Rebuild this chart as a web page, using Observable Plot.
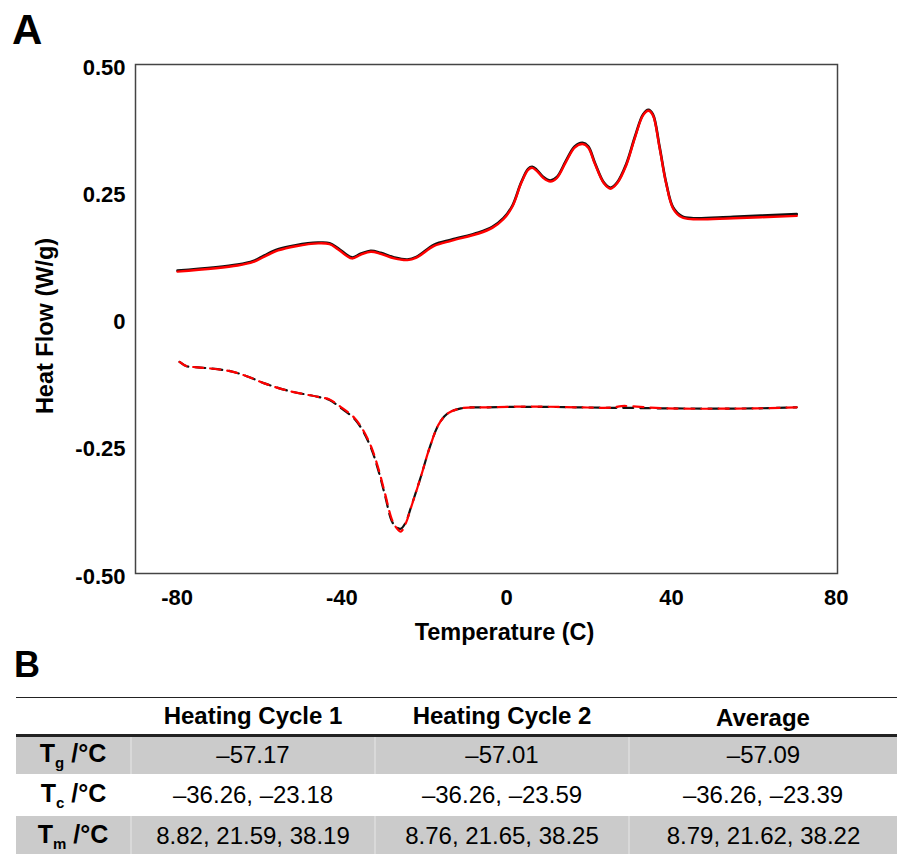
<!DOCTYPE html>
<html>
<head>
<meta charset="utf-8">
<script src="https://cdn.jsdelivr.net/npm/d3@7"></script>
<script src="https://cdn.jsdelivr.net/npm/@observablehq/plot@0.6"></script>
<style>
  html, body { margin: 0; padding: 0; background: #fff; }
  #wrap { position: relative; width: 897px; height: 854px; overflow: hidden; font-family: "Liberation Sans", Arial, sans-serif; color: #000; }
  .panel { position: absolute; font-weight: bold; line-height: 1; z-index: 2; }
  #chart { position: absolute; left: 0; top: 0; z-index: 1; }
  #tbl { position: absolute; left: 16px; top: 697px; width: 881px; border-collapse: collapse; table-layout: fixed; font-size: 24px; z-index: 1; }
  #tbl td, #tbl th { padding: 0; text-align: center; vertical-align: middle; white-space: nowrap; }
  #tbl thead tr { height: 38px; }
  #tbl thead th { font-weight: bold; border-top: 1.5px solid #222; border-bottom: 3px solid #222; }
  #tbl tbody td.lab { font-weight: bold; font-size: 25px; }
  #tbl tbody tr.g td { background: #cbcbcb; }
  #tbl tbody tr.g td + td { border-left: 2px solid #d9d9d9; }
  #tbl sub { font-size: 15px; vertical-align: -6px; }
</style>
</head>
<body>
<div id="wrap">
  <div class="panel" style="left:12px; top:9px; font-size:42px;">A</div>
  <div id="chart"></div>
  <div class="panel" style="left:14px; top:647px; font-size:36px;">B</div>
  <table id="tbl"></table>
</div>
<script>
// ---------- Panel A data ----------
const heatTemp = [-79.4, -64.8, -61.0, -58.3, -55.0, -50.7, -45.3, -42.5, -40.4, -37.1, -35.0, -32.5, -30.1, -26.8, -23.6, -21.4, -17.1, -12.8, -6.3, -3.0, -0.3, 1.9, 4.0, 5.7, 6.7, 7.8, 9.4, 11.1, 12.7, 14.9, 17.0, 18.9, 20.3, 21.9, 24.1, 25.7, 27.3, 29.5, 31.7, 33.6, 34.9, 36.0, 37.6, 39.2, 40.9, 43.0, 45.8, 55.5, 70.9];
const heatCycle1 = [0.095, 0.107, 0.114, 0.125, 0.137, 0.145, 0.150, 0.149, 0.139, 0.121, 0.128, 0.134, 0.130, 0.121, 0.117, 0.122, 0.146, 0.156, 0.170, 0.181, 0.198, 0.223, 0.268, 0.295, 0.299, 0.293, 0.279, 0.272, 0.279, 0.311, 0.339, 0.346, 0.339, 0.307, 0.268, 0.258, 0.268, 0.304, 0.360, 0.402, 0.411, 0.402, 0.339, 0.268, 0.219, 0.202, 0.198, 0.201, 0.206];
const heatCycle2 = [0.093, 0.105, 0.112, 0.1226, 0.1346, 0.143, 0.1486, 0.147, 0.1367, 0.119, 0.126, 0.132, 0.128, 0.119, 0.1157, 0.1206, 0.1436, 0.154, 0.168, 0.179, 0.196, 0.221, 0.2665, 0.293, 0.297, 0.291, 0.277, 0.27, 0.277, 0.3087, 0.3367, 0.3437, 0.3367, 0.305, 0.2665, 0.256, 0.2665, 0.3016, 0.358, 0.40, 0.409, 0.40, 0.3367, 0.2665, 0.217, 0.1998, 0.196, 0.198, 0.2026];

const coolTemp = [-78.9, -77.2, -74.5, -66.9, -62.6, -58.3, -52.8, -45.3, -42.5, -39.9, -36.6, -34.4, -32.3, -30.6, -29.0, -27.4, -26.3, -25.2, -24.1, -22.5, -20.3, -18.2, -16.0, -13.9, -10.6, -4.1, 6.7, 17.6, 26.2, 28.4, 39.2, 60.9, 70.9];
const coolCycle1 = [-0.0843, -0.0927, -0.0949, -0.102, -0.1124, -0.1265, -0.1405, -0.153, -0.159, -0.174, -0.195, -0.220, -0.256, -0.299, -0.348, -0.397, -0.409, -0.412, -0.401, -0.364, -0.309, -0.2527, -0.207, -0.186, -0.1756, -0.1735, -0.1725, -0.1735, -0.1745, -0.1745, -0.1756, -0.1756, -0.1735];
const coolCycle2 = [-0.0843, -0.0927, -0.0949, -0.102, -0.1124, -0.1265, -0.1405, -0.153, -0.158, -0.172, -0.193, -0.2177, -0.2527, -0.295, -0.344, -0.393, -0.41, -0.4177, -0.4035, -0.365, -0.309, -0.2527, -0.207, -0.186, -0.1756, -0.1735, -0.172, -0.1735, -0.174, -0.171, -0.1756, -0.1756, -0.1735];

const xTicks = [-80, -40, 0, 40, 80];
const yTicks = [0.5, 0.25, 0, -0.25, -0.5];
const yTickLabels = ["0.50", "0.25", "0", "-0.25", "-0.50"];
const xTitle = "Temperature (C)";
const yTitle = "Heat Flow (W/g)";

// ---------- Panel B data ----------
const tableHeaders = ["Heating Cycle 1", "Heating Cycle 2", "Average"];
const rowSymbols = ["g", "c", "m"];
const rowValues = [
  ["–57.17", "–57.01", "–57.09"],
  ["–36.26, –23.18", "–36.26, –23.59", "–36.26, –23.39"],
  ["8.82, 21.59, 38.19", "8.76, 21.65, 38.25", "8.79, 21.62, 38.22"]
];

// ---------- build ----------
const toRows = (t, v) => t.map((d, i) => ({t: d, hf: v[i]}));
const h1 = toRows(heatTemp, heatCycle1), h2 = toRows(heatTemp, heatCycle2);
const c1 = toRows(coolTemp, coolCycle1), c2 = toRows(coolTemp, coolCycle2);
const labelOf = new Map(yTicks.map((d, i) => [d, yTickLabels[i]]));

const chart = Plot.plot({
  width: 897,
  height: 650,
  marginLeft: 135,
  marginRight: 60,
  marginTop: 64,
  marginBottom: 77,
  x: {domain: [-89.6, 80.8]},
  y: {domain: [-0.5, 0.5]},
  style: {fontFamily: "'Liberation Sans', Arial, sans-serif", fontSize: "22px", fontWeight: "bold", color: "#000", background: "transparent", overflow: "visible"},
  marks: [
    Plot.frame({stroke: "#444", strokeWidth: 1.5}),
    Plot.axisX({ticks: xTicks, tickSize: 0, tickPadding: 16, tickFormat: d => String(d), label: null, fontSize: 22, fontWeight: "bold", dx: 2}),
    Plot.axisY({ticks: yTicks, tickSize: 0, tickPadding: 10, tickFormat: d => labelOf.get(d), label: null, fontSize: 22, fontWeight: "bold", dy: 3}),
    Plot.line(h1, {x: "t", y: "hf", stroke: "#111", strokeWidth: 2.6, curve: "catmull-rom"}),
    Plot.line(h2, {x: "t", y: "hf", stroke: "#ff0000", strokeWidth: 2.4, curve: "catmull-rom"}),
    Plot.line(c1, {x: "t", y: "hf", stroke: "#111", strokeWidth: 2.2, strokeDasharray: "10,7", curve: "catmull-rom"}),
    Plot.line(c2, {x: "t", y: "hf", stroke: "#ff0000", strokeWidth: 2.2, strokeDasharray: "10,7", strokeDashoffset: 2, curve: "catmull-rom"}),
    Plot.text([xTitle], {frameAnchor: "bottom", textAnchor: "middle", lineAnchor: "middle", dx: 18, dy: 59, fontSize: 23.5, fontWeight: "bold"}),
    Plot.text([yTitle], {frameAnchor: "left", textAnchor: "middle", lineAnchor: "middle", rotate: -90, dx: -90, dy: 7, fontSize: 23.5, fontWeight: "bold"})
  ]
});
document.getElementById("chart").appendChild(chart);

// table
const tbl = document.getElementById("tbl");
const colg = document.createElement("colgroup");
[115, 244, 254, 268].forEach(w => { const c = document.createElement("col"); c.style.width = w + "px"; colg.appendChild(c); });
tbl.appendChild(colg);
const thead = document.createElement("thead");
const htr = document.createElement("tr");
["", ...tableHeaders].forEach((h, i) => {
  const th = document.createElement("th");
  th.textContent = h;
  if (i === 3) th.style.paddingTop = "4px";
  htr.appendChild(th);
});
thead.appendChild(htr);
tbl.appendChild(thead);
const tbody = document.createElement("tbody");
const rowHeights = [38, 42, 40];
rowSymbols.forEach((s, r) => {
  const tr = document.createElement("tr");
  tr.style.height = rowHeights[r] + "px";
  if (r !== 1) tr.className = "g";
  const lab = document.createElement("td");
  lab.className = "lab";
  lab.innerHTML = "T<sub>" + s + "</sub> /°C";
  tr.appendChild(lab);
  rowValues[r].forEach(v => {
    const td = document.createElement("td");
    td.textContent = v;
    tr.appendChild(td);
  });
  tbody.appendChild(tr);
});
tbl.appendChild(tbody);
</script>
</body>
</html>
